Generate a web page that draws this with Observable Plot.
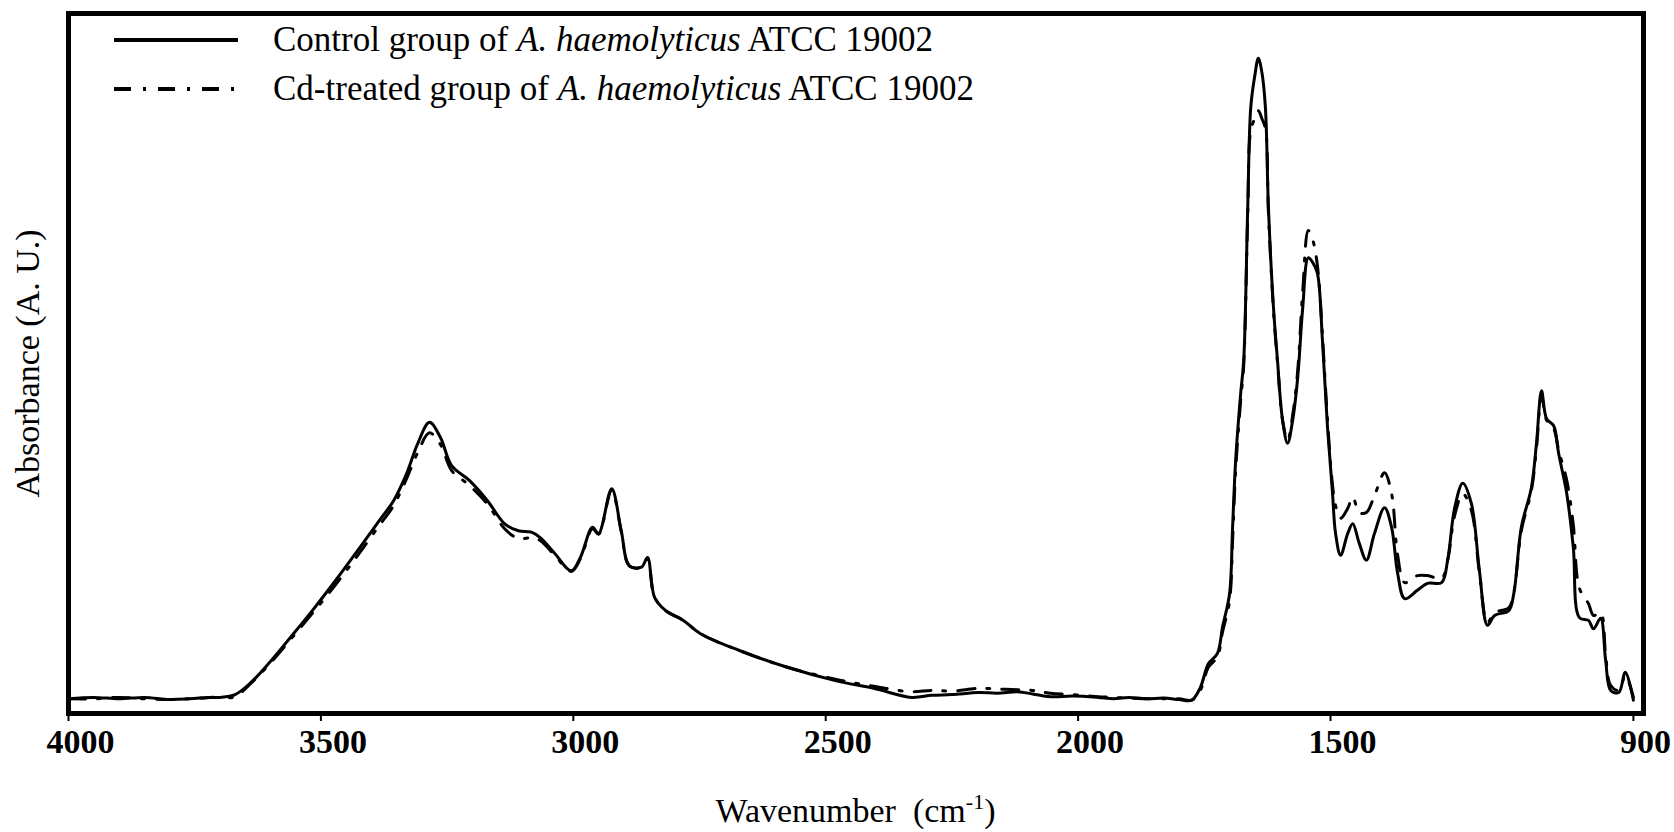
<!DOCTYPE html>
<html>
<head>
<meta charset="utf-8">
<script src="https://cdn.jsdelivr.net/npm/d3@7"></script>
<script src="https://cdn.jsdelivr.net/npm/@observablehq/plot@0.6"></script>
<style>
  html, body { margin: 0; padding: 0; background: #fff; }
  #chart { width: 1674px; height: 832px; }
</style>
</head>
<body>
<div id="chart"></div>
<script>
// FTIR spectra (absorbance, arbitrary units) of A. haemolyticus ATCC 19002
const wavenumber = [4000, 3950, 3900, 3850, 3800, 3760, 3720, 3700, 3670, 3639, 3604, 3560, 3517, 3471, 3427, 3384, 3356, 3330, 3308, 3285, 3263, 3241, 3206, 3170, 3136, 3109, 3083, 3065, 3037, 3004, 2986, 2962, 2950, 2924, 2905, 2889, 2865, 2853, 2839, 2817, 2782, 2748, 2671, 2576, 2481, 2405, 2330, 2290, 2250, 2197, 2160, 2120, 2090, 2055, 2010, 1960, 1930, 1900, 1865, 1830, 1800, 1775, 1758, 1742, 1724, 1714, 1700, 1694, 1688, 1678, 1672, 1664, 1658, 1650, 1643, 1636, 1629, 1623, 1613, 1605, 1595, 1585, 1575, 1565, 1555, 1544, 1535, 1526, 1516, 1506, 1496, 1490, 1480, 1466, 1456, 1443, 1429, 1413, 1393, 1379, 1367, 1353, 1328, 1308, 1280, 1268, 1254, 1238, 1221, 1205, 1189, 1175, 1147, 1137, 1122, 1102, 1092, 1082, 1072, 1058, 1048, 1032, 1019, 1007, 989, 979, 965, 955, 945, 929, 916, 900];

const control = [0.021, 0.023, 0.021, 0.023, 0.020, 0.021, 0.023, 0.023, 0.027, 0.044, 0.071, 0.109, 0.147, 0.190, 0.233, 0.276, 0.304, 0.343, 0.386, 0.416, 0.394, 0.354, 0.333, 0.304, 0.271, 0.261, 0.259, 0.251, 0.229, 0.204, 0.223, 0.266, 0.257, 0.321, 0.261, 0.211, 0.209, 0.223, 0.166, 0.147, 0.133, 0.114, 0.090, 0.066, 0.047, 0.036, 0.023, 0.026, 0.027, 0.030, 0.029, 0.031, 0.028, 0.024, 0.025, 0.023, 0.021, 0.023, 0.021, 0.022, 0.020, 0.019, 0.037, 0.071, 0.086, 0.123, 0.171, 0.266, 0.361, 0.457, 0.504, 0.723, 0.866, 0.911, 0.936, 0.916, 0.866, 0.723, 0.580, 0.504, 0.419, 0.386, 0.419, 0.480, 0.580, 0.651, 0.644, 0.629, 0.533, 0.409, 0.314, 0.257, 0.226, 0.257, 0.271, 0.243, 0.219, 0.257, 0.294, 0.266, 0.200, 0.164, 0.176, 0.186, 0.187, 0.219, 0.294, 0.329, 0.300, 0.204, 0.126, 0.140, 0.147, 0.171, 0.266, 0.323, 0.386, 0.461, 0.421, 0.411, 0.371, 0.314, 0.237, 0.137, 0.133, 0.121, 0.136, 0.076, 0.033, 0.030, 0.059, 0.019];

const cdTreated = [0.021, 0.021, 0.023, 0.021, 0.020, 0.021, 0.023, 0.023, 0.024, 0.043, 0.069, 0.106, 0.143, 0.184, 0.226, 0.269, 0.297, 0.336, 0.373, 0.401, 0.384, 0.347, 0.326, 0.299, 0.264, 0.250, 0.251, 0.247, 0.226, 0.203, 0.221, 0.264, 0.256, 0.319, 0.260, 0.211, 0.209, 0.221, 0.166, 0.147, 0.133, 0.114, 0.090, 0.066, 0.049, 0.039, 0.031, 0.033, 0.032, 0.036, 0.035, 0.034, 0.033, 0.029, 0.027, 0.024, 0.023, 0.022, 0.021, 0.021, 0.021, 0.019, 0.033, 0.066, 0.081, 0.116, 0.161, 0.247, 0.347, 0.447, 0.497, 0.711, 0.833, 0.850, 0.861, 0.850, 0.836, 0.716, 0.576, 0.501, 0.419, 0.390, 0.426, 0.490, 0.604, 0.690, 0.676, 0.640, 0.540, 0.419, 0.326, 0.297, 0.279, 0.293, 0.309, 0.287, 0.287, 0.311, 0.344, 0.314, 0.226, 0.187, 0.197, 0.197, 0.193, 0.219, 0.283, 0.314, 0.290, 0.201, 0.130, 0.144, 0.151, 0.173, 0.261, 0.319, 0.379, 0.454, 0.419, 0.407, 0.376, 0.333, 0.269, 0.179, 0.157, 0.140, 0.144, 0.083, 0.040, 0.033, 0.054, 0.023];

const xTicks = [4000, 3500, 3000, 2500, 2000, 1500, 900];
const xLabel = "Wavenumber";
const yLabel = "Absorbance (A. U.)";
const legendItems = [
  {pre: "Control group of ", species: "A. haemolyticus", post: " ATCC 19002", dash: null},
  {pre: "Cd-treated group of ", species: "A. haemolyticus", post: " ATCC 19002", dash: "17,12,3,12"}
];

const controlRows = wavenumber.map((w, i) => ({wn: w, abs: control[i]}));
const cdRows = wavenumber.map((w, i) => ({wn: w, abs: cdTreated[i]}));

const serif = "'Liberation Serif', 'Times New Roman', serif";

const chart = Plot.plot({
  width: 1674,
  height: 832,
  marginLeft: 68,
  marginRight: 31,
  marginTop: 13,
  marginBottom: 119,
  style: {fontFamily: serif, background: "#fff", color: "#000", overflow: "visible"},
  x: {domain: [4000, 880], axis: null},
  y: {domain: [0, 1], axis: null},
  marks: [
    Plot.line(cdRows, {x: "wn", y: "abs", stroke: "#000", strokeWidth: 3, strokeDasharray: legendItems[1].dash, curve: "catmull-rom"}),
    Plot.line(controlRows, {x: "wn", y: "abs", stroke: "#000", strokeWidth: 3, curve: "catmull-rom"}),
    Plot.frame({stroke: "#000", strokeWidth: 5}),
    Plot.axisX(xTicks, {anchor: "bottom", tickSize: 8, strokeWidth: 2, fill: "none", label: null}),
    Plot.axisX(xTicks, {anchor: "bottom", tickSize: 0, tickPadding: 15, dx: 12, fontSize: 34, fontWeight: "bold", tickFormat: d => String(d), label: null}),
    Plot.text([yLabel], {frameAnchor: "left", textAnchor: "middle", text: d => d, rotate: -90, dx: -40, fontSize: 34})
  ]
});

const svg = d3.select(chart);

// x-axis title with superscript unit
const xr = chart.scale("x").range;
const title = svg.append("text")
  .attr("x", (xr[0] + xr[1]) / 2)
  .attr("y", 822)
  .attr("text-anchor", "middle")
  .attr("font-family", serif)
  .attr("font-size", 34)
  .style("white-space", "pre");
title.append("tspan").text(xLabel + "  (cm");
title.append("tspan").attr("font-size", 22).attr("dy", -13).text("-1");
title.append("tspan").attr("dy", 13).text(")");

// legend inside the frame
const legend = svg.append("g")
  .attr("font-family", serif)
  .attr("font-size", 35)
  .attr("text-anchor", "start")
  .style("white-space", "pre");
legendItems.forEach((item, i) => {
  const ly = 40 + i * 49;
  legend.append("line")
    .attr("x1", 114).attr("x2", 238)
    .attr("y1", ly).attr("y2", ly)
    .attr("stroke", "#000")
    .attr("stroke-width", 4)
    .attr("stroke-dasharray", item.dash);
  const t = legend.append("text").attr("x", 273).attr("y", ly + 11);
  t.append("tspan").text(item.pre);
  t.append("tspan").attr("font-style", "italic").text(item.species);
  t.append("tspan").text(item.post);
});

document.getElementById("chart").appendChild(chart);
</script>
</body>
</html>
